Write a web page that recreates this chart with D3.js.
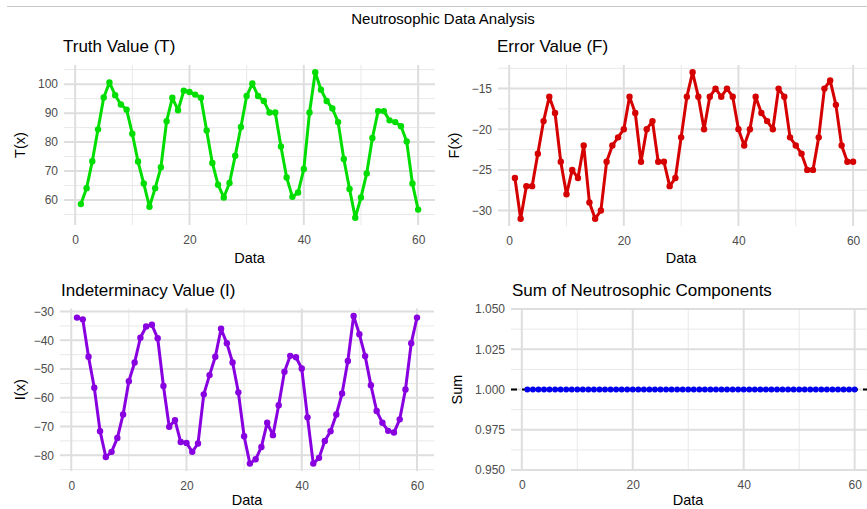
<!DOCTYPE html>
<html>
<head>
<meta charset="utf-8">
<script src="https://cdn.jsdelivr.net/npm/d3@7"></script>
<style>
  body { margin: 0; background: #fff; }
  svg { display: block; font-family: "Liberation Sans", Arial, sans-serif; }
</style>
</head>
<body>
<div id="plotContainer"></div>
<script>
// data
const dataIndex = d3.range(1, 61);

const truthValues = [58.6, 64.1, 73.4, 84.4, 95.4, 100.6, 96.2, 93.0, 91.2, 82.9,
  73.3, 65.7, 57.7, 64.1, 71.3, 87.2, 95.3, 91.0, 97.7, 97.3,
  96.4, 95.3, 84.0, 72.8, 65.3, 60.9, 65.9, 75.3, 85.2, 95.9,
  100.2, 95.9, 94.2, 90.2, 90.2, 78.5, 67.8, 61.1, 62.6, 70.7,
  90.2, 104.1, 98.1, 94.2, 91.6, 86.9, 74.2, 63.8, 53.9, 60.9,
  69.2, 81.4, 90.7, 90.7, 87.5, 86.9, 85.5, 80.2, 65.7, 56.7];

const errorValues = [-26, -31, -27, -27, -23, -19, -16, -18, -24, -28,
  -25, -26, -22, -29, -31, -30, -24, -22, -21, -20,
  -16, -18, -24, -20, -19, -24, -24, -27, -26, -21,
  -16, -13, -16, -20, -16, -15, -16, -15, -16, -20,
  -22, -20, -16, -18, -19, -20, -15, -16, -21, -22,
  -23, -25, -25, -21, -15, -14, -17, -22, -24, -24];

const indetValues = [-32.1, -32.7, -45.7, -56.5, -71.6, -80.6, -78.8, -74.0, -65.8, -54.2,
  -47.7, -39.1, -35.2, -34.6, -39.3, -55.9, -70.1, -67.8, -75.4, -75.7,
  -78.8, -75.9, -58.8, -52.1, -45.7, -36.0, -41.0, -47.7, -58.1, -73.4,
  -82.9, -81.4, -77.1, -68.7, -73.0, -62.6, -50.9, -45.4, -45.9, -49.8,
  -66.8, -82.9, -80.9, -75.0, -71.6, -65.8, -58.5, -47.2, -31.5, -37.9,
  -45.5, -55.6, -64.6, -68.7, -71.5, -72.1, -67.5, -57.1, -41.0, -32.1];

const sumValues = [1, 1, 1, 1, 1, 1, 1, 1, 1, 1, 1, 1, 1, 1, 1, 1, 1, 1, 1, 1,
  1, 1, 1, 1, 1, 1, 1, 1, 1, 1, 1, 1, 1, 1, 1, 1, 1, 1, 1, 1,
  1, 1, 1, 1, 1, 1, 1, 1, 1, 1, 1, 1, 1, 1, 1, 1, 1, 1, 1, 1];

const xTicks = [0, 20, 40, 60];
const xMinor = [10, 30, 50];
const truthTicks = [60, 70, 80, 90, 100];
const errorTicks = [-30, -25, -20, -15];
const indetTicks = [-80, -70, -60, -50, -40, -30];
const sumTicks = [0.95, 0.975, 1.0, 1.025, 1.05];

const W = 867, H = 509;

const svg = d3.select("#plotContainer")
  .append("svg")
    .attr("width", W)
    .attr("height", H);

// thin frame line at the very top
svg.append("line")
  .attr("x1", 7).attr("x2", W).attr("y1", 6.5).attr("y2", 6.5)
  .attr("stroke", "#c8c8c8").attr("stroke-width", 1);

svg.append("text")
  .attr("x", 443).attr("y", 24)
  .attr("text-anchor", "middle")
  .style("font-size", "15px")
  .text("Neutrosophic Data Analysis");

// ggplot style 5% expansion
function expand(ext) {
  const pad = (ext[1] - ext[0]) * 0.05;
  return [ext[0] - pad, ext[1] + pad];
}

function midpoints(t) {
  const m = [];
  for (let i = 0; i < t.length - 1; i++) m.push((t[i] + t[i + 1]) / 2);
  m.unshift(t[0] - (t[1] - t[0]) / 2);
  m.push(t[t.length - 1] + (t[1] - t[0]) / 2);
  return m;
}

function drawPanel(p) {
  const g = svg.append("g");

  const x = d3.scaleLinear()
    .domain(expand(d3.extent(dataIndex)))
    .range([p.left, p.right]);
  const y = d3.scaleLinear()
    .domain(p.yDomain || expand(d3.extent(p.values)))
    .range([p.bottom, p.top]);

  const yMinor = midpoints(p.yTicks).filter(v => v >= y.domain()[0] - 1e-9 && v <= y.domain()[1] + 1e-9);

  // minor grid
  g.selectAll(".vminor").data(xMinor).enter().append("line")
    .attr("x1", d => x(d)).attr("x2", d => x(d))
    .attr("y1", p.top).attr("y2", p.bottom)
    .attr("stroke", "#e8e8e8").attr("stroke-width", 1);
  g.selectAll(".hminor").data(yMinor).enter().append("line")
    .attr("x1", p.left).attr("x2", p.right)
    .attr("y1", d => y(d)).attr("y2", d => y(d))
    .attr("stroke", "#e8e8e8").attr("stroke-width", 1);
  // major grid
  g.selectAll(".vmajor").data(xTicks).enter().append("line")
    .attr("x1", d => x(d)).attr("x2", d => x(d))
    .attr("y1", p.top).attr("y2", p.bottom)
    .attr("stroke", "#dedede").attr("stroke-width", 2);
  g.selectAll(".hmajor").data(p.yTicks).enter().append("line")
    .attr("x1", p.left).attr("x2", p.right)
    .attr("y1", d => y(d)).attr("y2", d => y(d))
    .attr("stroke", "#dedede").attr("stroke-width", 2);

  // axes (labels only, like theme_minimal)
  const xAxis = g.append("g")
    .attr("transform", `translate(0,${p.bottom + 2})`)
    .call(d3.axisBottom(x).tickValues(xTicks).tickSize(0).tickPadding(8));
  const yAxis = g.append("g")
    .attr("transform", `translate(${p.left - 3},0)`)
    .call(d3.axisLeft(y).tickValues(p.yTicks).tickSize(0).tickPadding(3)
      .tickFormat(p.yFormat || d3.format("d")));
  [xAxis, yAxis].forEach(a => {
    a.select(".domain").remove();
    a.selectAll("text")
      .style("font-size", "12px")
      .style("font-family", "\"Liberation Sans\", Arial, sans-serif")
      .attr("fill", "#4d4d4d");
  });

  // titles
  g.append("text")
    .attr("x", p.titleX).attr("y", p.top - 13)
    .style("font-size", "17px")
    .text(p.title);
  g.append("text")
    .attr("x", (p.left + Math.min(p.right, W + 6)) / 2 - (p.right > W ? 3 : 0))
    .attr("y", p.dataY)
    .attr("text-anchor", "middle")
    .style("font-size", "14.5px")
    .text("Data");
  g.append("text")
    .attr("transform", `translate(${p.yTitleX},${(p.top + p.bottom) / 2}) rotate(-90)`)
    .attr("text-anchor", "middle")
    .style("font-size", "14.5px")
    .text(p.yLabel);

  const pts = dataIndex.map((d, i) => ({x: d, y: p.values[i]}));

  if (p.hline !== undefined) {
    g.append("line")
      .attr("x1", p.left).attr("x2", p.right)
      .attr("y1", y(p.hline)).attr("y2", y(p.hline))
      .attr("stroke", "#000").attr("stroke-width", 2)
      .attr("stroke-dasharray", "6,5");
  }

  if (p.line) {
    g.append("path")
      .datum(pts)
      .attr("d", d3.line().x(d => x(d.x)).y(d => y(d.y)))
      .attr("fill", "none")
      .attr("stroke", p.color)
      .style("stroke-width", 3)
      .attr("stroke-linejoin", "round");
  }

  g.selectAll(".pt").data(pts).enter().append("circle")
    .attr("cx", d => x(d.x)).attr("cy", d => y(d.y))
    .attr("r", p.r || 3.2)
    .attr("fill", p.color);
}

drawPanel({
  values: truthValues, yTicks: truthTicks, color: "#00dd00", line: true,
  left: 64, right: 435, top: 65, bottom: 225, dataY: 263,
  title: "Truth Value (T)", titleX: 63, yLabel: "T(x)", yTitleX: 25
});
drawPanel({
  values: errorValues, yTicks: errorTicks, color: "#d50000", line: true,
  left: 498, right: 870, top: 65, bottom: 226, dataY: 263,
  title: "Error Value (F)", titleX: 497, yLabel: "F(x)", yTitleX: 459
});
drawPanel({
  values: indetValues, yTicks: indetTicks, color: "#8800e0", line: true,
  left: 60, right: 434, top: 308.5, bottom: 471, dataY: 505,
  title: "Indeterminacy Value (I)", titleX: 61, yLabel: "I(x)", yTitleX: 25
});
drawPanel({
  values: sumValues, yTicks: sumTicks, color: "#0000ee", line: false, r: 3,
  yDomain: [0.95, 1.05], yFormat: d3.format(".3f"), hline: 1,
  left: 511, right: 871, top: 309, bottom: 470, dataY: 505,
  title: "Sum of Neutrosophic Components", titleX: 512, yLabel: "Sum", yTitleX: 462
});
</script>
</body>
</html>
